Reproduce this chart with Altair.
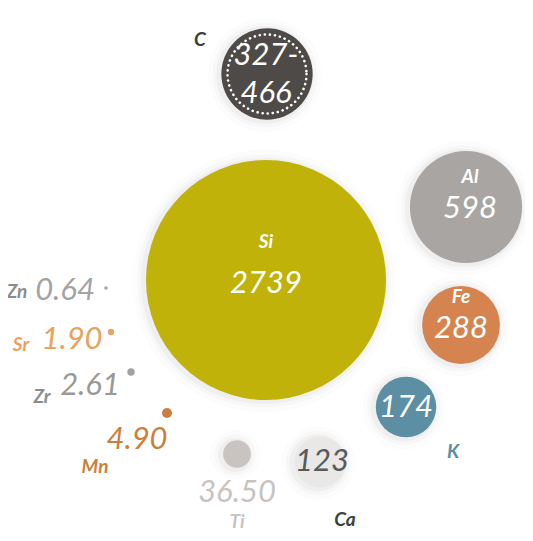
import altair as alt
import pandas as pd

# --- data -------------------------------------------------------------
elements = ["C", "Si", "Al", "Fe", "K", "Ca", "Ti", "Mn", "Zr", "Sr", "Zn"]
values = [396.5, 2739, 598, 288, 174, 123, 36.5, 4.90, 2.61, 1.90, 0.64]
value_text = ["327-\n466", "2739", "598", "288", "174", "123", "36.50", "4.90", "2.61", "1.90", "0.64"]
# bubble layout (chart units)
bx = [267, 266, 466, 461, 406, 320, 237, 167, 131, 111, 106]
by = [74, 280, 207, 325, 407, 462, 454, 413, 372, 332, 288]
# value-label anchors
vx = [266, 266, 470, 461, 406, 322, 237, 137, 90, 72, 65]
vy = [56, 284, 209, 329, 408, 462, 493, 440, 386, 340, 291]
# element-label anchors
ex = [200, 266, 470, 461, 453, 345, 237, 95, 42, 21, 17]
ey = [40, 242, 177, 297, 452, 520, 522, 467, 397, 345, 292]

bubble_colors = ["#4E4A48", "#C0B209", "#A9A5A2", "#D5844F", "#5C8FA3", "#E9E8E7",
                 "#CAC4C1", "#CC7F42", "#A2A2A2", "#EAA463", "#A6A6A6"]
value_colors = ["#FFFFFF", "#FFFFFF", "#FFFFFF", "#FFFFFF", "#FFFFFF", "#5A5A5A",
                "#C8C3C0", "#CC7F3A", "#999999", "#E9A25E", "#A3A3A3"]
name_colors = ["#3C3C3C", "#FFFFFF", "#FFFFFF", "#FFFFFF", "#5C8FA3", "#404040",
               "#C8C3C0", "#CC7F3A", "#8C8C8C", "#E9A25E", "#8C8C8C"]

df = pd.DataFrame({
    "element": elements, "value": values, "vtext": value_text,
    "bx": bx, "by": by, "vx": vx, "vy": vy, "ex": ex, "ey": ey,
})

W, H = 517, 525
xs = alt.Scale(domain=[8, 8 + W], nice=False, zero=False)
ys = alt.Scale(domain=[8, 8 + H], nice=False, zero=False, reverse=True)
# Vega symbol size = area of the bounding square (diameter^2)
k2 = 4 * 2.293 ** 2
size_scale = alt.Scale(type="linear", domain=[0, 2739], range=[0, k2 * 2739], zero=True)
fill_scale = alt.Scale(domain=elements, range=bubble_colors)
vcol_scale = alt.Scale(domain=elements, range=value_colors)
ncol_scale = alt.Scale(domain=elements, range=name_colors)

base = alt.Chart(df)
X = lambda f: alt.X(f"{f}:Q", scale=xs, axis=None)
Y = lambda f: alt.Y(f"{f}:Q", scale=ys, axis=None)

# soft shadow: concentric translucent strokes around the larger bubbles
halo_layers = []
for sw, op in [(22, 0.03), (13, 0.05), (6, 0.08)]:
    halo_layers.append(
        base.transform_filter("datum.value > 30").mark_point(
            shape="circle", filled=False, stroke="#777777", strokeWidth=sw,
            strokeOpacity=op, xOffset=-2, yOffset=1,
        ).encode(x=X("bx"), y=Y("by"),
                 size=alt.Size("value:Q", scale=size_scale, legend=None))
    )

bubbles = base.mark_circle(opacity=1).encode(
    x=X("bx"), y=Y("by"),
    size=alt.Size("value:Q", scale=size_scale, legend=None),
    color=alt.Color("element:N", scale=fill_scale, legend=None),
)

ring = base.transform_filter("datum.element == 'C'").mark_point(
    shape="circle", filled=False, stroke="#FFFFFF", strokeWidth=2.6,
    strokeDash=[0.1, 5], strokeCap="round", size=4 * 39.5 ** 2, opacity=1,
).encode(x=X("bx"), y=Y("by"))

vlabels = base.mark_text(
    font="Lato", fontStyle="italic", fontSize=31, align="center", baseline="middle",
    lineBreak="\n", lineHeight=38,
).encode(
    x=X("vx"), y=Y("vy"), text="vtext:N",
    color=alt.Color("element:N", scale=vcol_scale, legend=None),
)

nlabels = base.mark_text(
    font="Lato", fontStyle="italic", fontWeight="bold", fontSize=19,
    align="center", baseline="middle",
).encode(
    x=X("ex"), y=Y("ey"), text="element:N",
    color=alt.Color("element:N", scale=ncol_scale, legend=None),
)

chart = alt.layer(*halo_layers, bubbles, ring, vlabels, nlabels).resolve_scale(
    color="independent"
).properties(
    width=W, height=H, autosize=alt.AutoSizeParams(type="none"), padding=0,
    background="white",
).configure_view(strokeOpacity=0, strokeWidth=0, fill="white")

chart.save("out.html", embed_options={"renderer": "svg", "actions": False})
